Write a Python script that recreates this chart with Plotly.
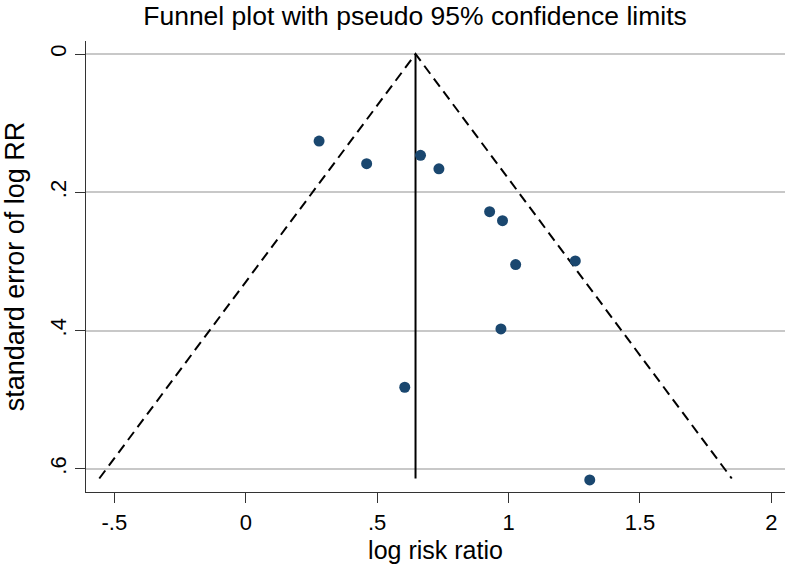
import plotly.graph_objects as go

# Study estimates (log risk ratio) and their standard errors
log_rr = [0.279, 0.460, 0.665, 0.735, 0.928, 0.977, 1.027, 1.254, 0.971, 0.605, 1.309]
se_log_rr = [0.126, 0.1586, 0.1465, 0.166, 0.228, 0.241, 0.3046, 0.2993, 0.3976, 0.482, 0.616]

pooled = 0.646      # fixed-effect pooled log RR (vertical line)
se_max = 0.614      # extent of the funnel
z = 1.96

x_ticks = [-0.5, 0, 0.5, 1, 1.5, 2]
x_ticktext = ["-.5", "0", ".5", "1", "1.5", "2"]
y_ticks = [0, 0.2, 0.4, 0.6]
y_ticktext = ["0", ".2", ".4", ".6"]

font_family = "Liberation Sans, Arial, Helvetica, sans-serif"

fig = go.Figure()

# Pseudo 95% confidence limits
fig.add_trace(go.Scatter(
    x=[pooled - z * se_max, pooled, pooled + z * se_max],
    y=[se_max, 0, se_max],
    mode="lines",
    line=dict(color="black", width=2, dash="10px,6px"),
    hoverinfo="skip", showlegend=False,
))

# Pooled estimate line
fig.add_trace(go.Scatter(
    x=[pooled, pooled],
    y=[0, se_max],
    mode="lines",
    line=dict(color="black", width=2),
    hoverinfo="skip", showlegend=False,
))

# Studies
fig.add_trace(go.Scatter(
    x=log_rr, y=se_log_rr,
    mode="markers",
    marker=dict(color="#1a476f", size=11),
    showlegend=False,
))

fig.update_layout(
    width=786, height=577,
    margin=dict(l=86, r=1, t=41, b=85),
    paper_bgcolor="white",
    plot_bgcolor="white",
    font=dict(family=font_family, color="black", size=22),
    title=dict(
        text="Funnel plot with pseudo 95% confidence limits",
        x=0.528, xanchor="center",
        y=0.988, yanchor="top",
        font=dict(size=26.5, family=font_family, color="black"),
    ),
)

fig.update_xaxes(
    range=[-0.608, 2.052],
    tickvals=x_ticks, ticktext=x_ticktext,
    showgrid=False, zeroline=False,
    showline=True, linecolor="#333333", linewidth=1.2,
    ticks="outside", ticklen=10, tickcolor="#333333", tickwidth=1,
    tickfont=dict(size=22),
    title=dict(text="log risk ratio", font=dict(size=25), standoff=7),
)

fig.update_yaxes(
    range=[0.6335, -0.0188],
    tickvals=y_ticks, ticktext=y_ticktext,
    tickangle=-90,
    showgrid=True, gridcolor="#c8c8c8", gridwidth=1.5,
    zeroline=False,
    showline=True, linecolor="#333333", linewidth=1.2,
    ticks="outside", ticklen=10, tickcolor="#333333", tickwidth=1,
    tickfont=dict(size=22),
    title=dict(text="standard error of log RR", font=dict(size=27), standoff=14),
)

fig.write_html(
    "out.html",
    config={"displayModeBar": False},
    post_script="document.body.style.margin='0';document.body.style.padding='0';",
)
